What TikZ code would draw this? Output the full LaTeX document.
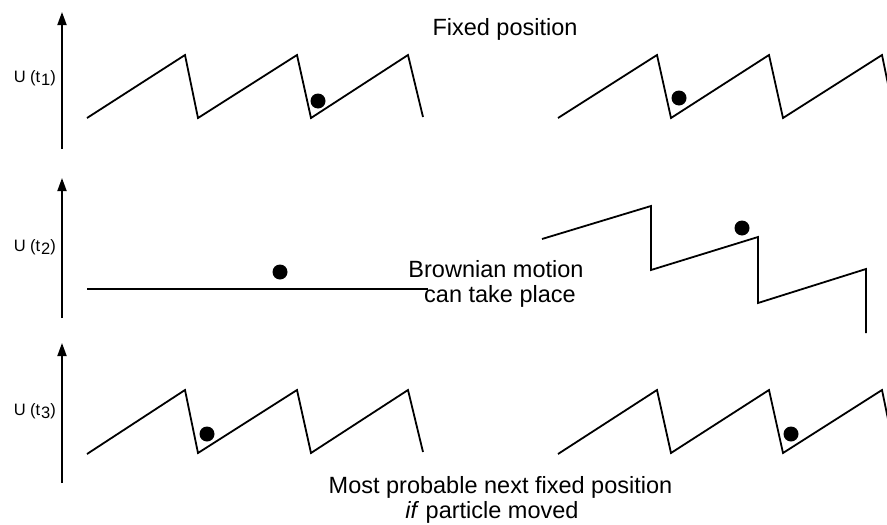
\documentclass[tikz,border=0pt]{standalone}
\usepackage{fontspec}
\setmainfont{Liberation Sans}
\usetikzlibrary{arrows.meta}
\begin{document}
\begin{tikzpicture}[x=1pt,y=-1pt,
  curve/.style={line width=1.8pt, line join=miter},
  axis/.style={line width=1.8pt, -{Triangle[length=13pt,width=9pt]}},
  ball/.style={circle, fill=black, inner sep=0pt, minimum size=15pt},
  lbl/.style={font=\fontsize{16.5}{18}\selectfont, inner sep=0pt, anchor=base east},
  big/.style={font=\fontsize{23.5}{25}\selectfont, inner sep=0pt, anchor=base}]
\useasboundingbox (0,0) rectangle (887,525);

% axes
\coordinate (a1b) at (62,149); \coordinate (a1t) at (62,12);
\coordinate (a2b) at (62,318); \coordinate (a2t) at (62,178);
\coordinate (a3b) at (62,483); \coordinate (a3t) at (62,343);
\draw[axis] (a1b) -- (a1t);
\draw[axis] (a2b) -- (a2t);
\draw[axis] (a3b) -- (a3t);

% axis labels
\node[lbl] (l1) at (56,82) {U (t\kern0.8pt\raisebox{-3.5pt}{1})};
\node[lbl] (l2) at (56,251) {U (t\kern0.8pt\raisebox{-3.5pt}{2})};
\node[lbl] (l3) at (56,415) {U (t\kern0.8pt\raisebox{-3.5pt}{3})};

% row 1
\draw[curve] (87,118) -- (185,55) -- (198,118) -- (297,55) -- (311,118) -- (408,55) -- (423,117);
\draw[curve] (558,118) -- (657,55) -- (671,118) -- (769,55) -- (783,118) -- (882,55) -- (895,118);
\node[ball] (b1l) at (318,101) {};
\node[ball] (b1r) at (679,98) {};
\node[big] (fixed) at (505,35) {Fixed position};

% row 2
\draw[curve] (87,289) -- (428,289);
\node[ball] (b2l) at (280,272) {};
\draw[curve] (542,239) -- (651,206) -- (651,270) -- (758,237) -- (758,303) -- (866,269) -- (866,333);
\node[ball] (b2r) at (742,228) {};
\node[big] (brown1) at (496,277) {Brownian motion};
\node[big] (brown2) at (500,302) {can take place};

% row 3
\draw[curve] (87,454) -- (185,390) -- (198,453) -- (297,390) -- (311,453) -- (408,390) -- (423,452);
\draw[curve] (558,454) -- (657,390) -- (671,453) -- (769,390) -- (783,453) -- (882,390) -- (895,453);
\node[ball] (b3l) at (207,434) {};
\node[ball] (b3r) at (791,434) {};
\node[big] (most1) at (500.5,493) {Most probable next fixed position};
\node[big] (most2) at (492,518) {\textit{if} particle moved};
\end{tikzpicture}
\end{document}
